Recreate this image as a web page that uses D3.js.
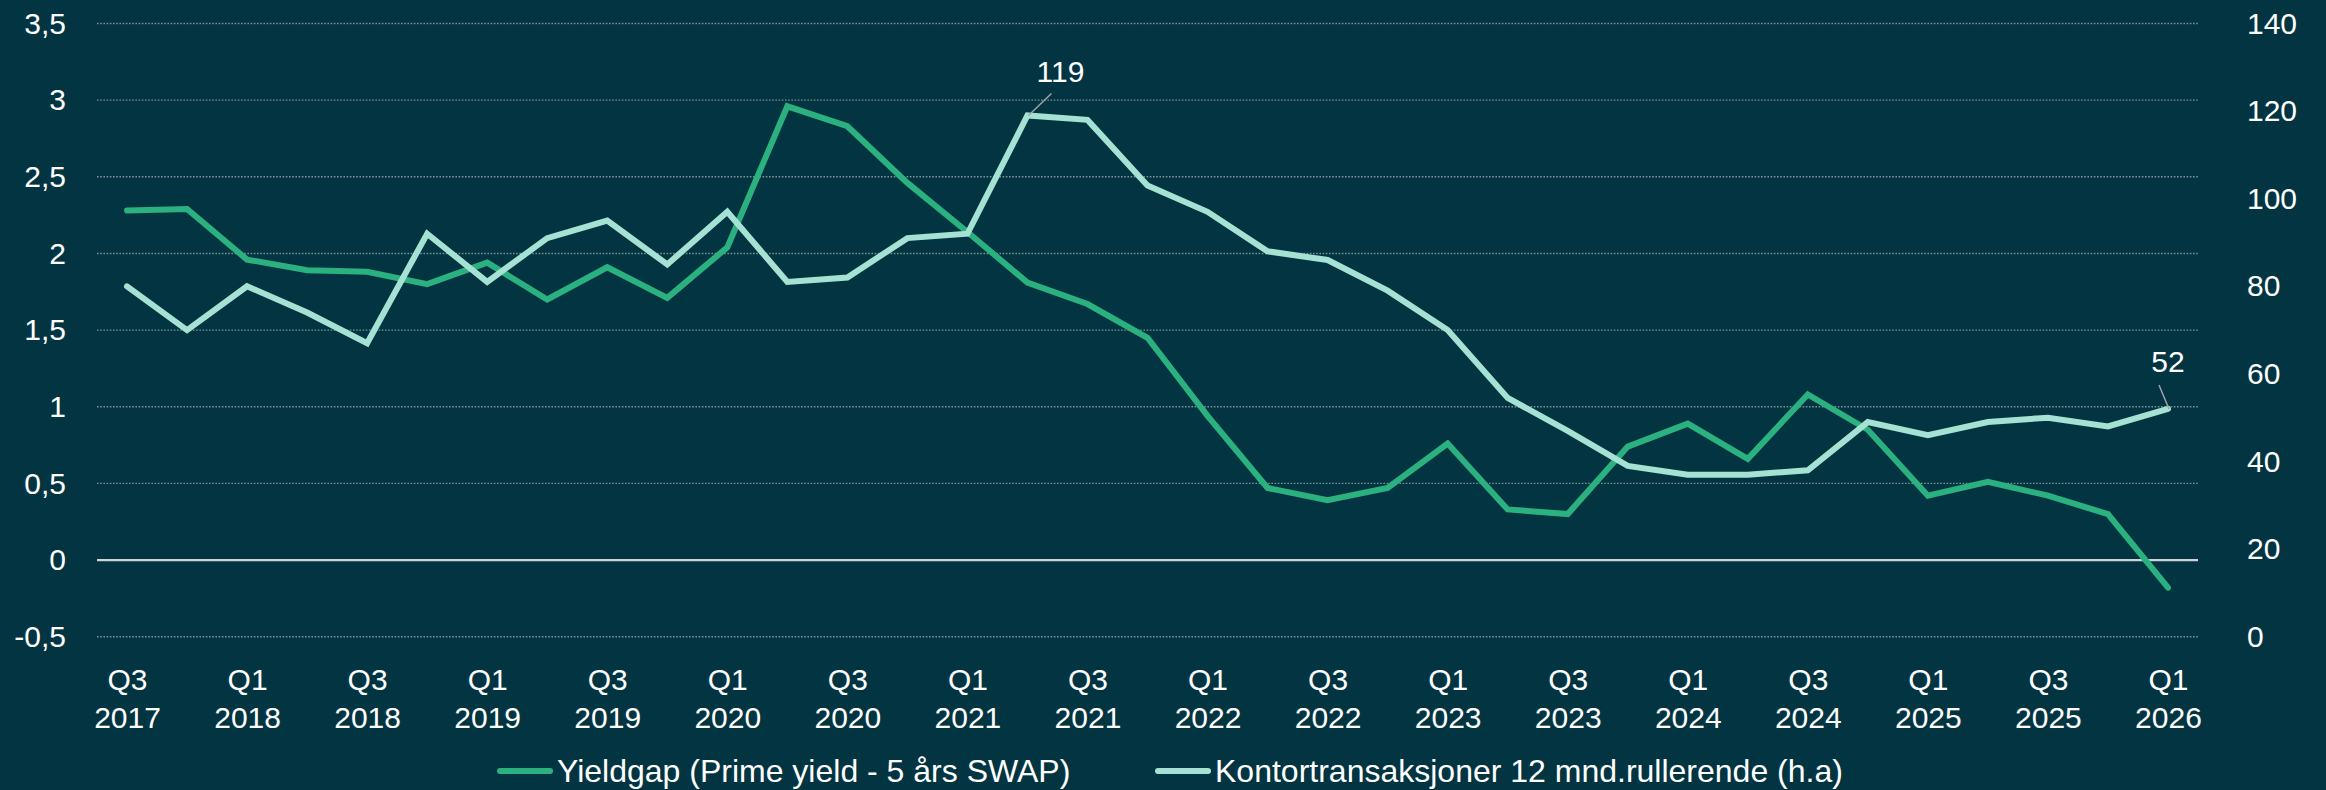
<!doctype html>
<html lang="no">
<head>
<meta charset="UTF-8">
<title>Yieldgap og kontortransaksjoner</title>
<style type="text/css">
body {
  margin: 0;
  padding: 0;
  background: #023541;
  font-family: 'Liberation Sans', Arial, sans-serif;
}
svg text {
  fill: #ffffff;
}
</style>
<script type="text/javascript" src="https://cdn.jsdelivr.net/npm/d3@7/dist/d3.min.js"></script>
</head>
<body>
<div id="chart"></div>
<script type="text/javascript">

var quarters = ['Q3 2017', 'Q4 2017',
  'Q1 2018', 'Q2 2018', 'Q3 2018', 'Q4 2018',
  'Q1 2019', 'Q2 2019', 'Q3 2019', 'Q4 2019',
  'Q1 2020', 'Q2 2020', 'Q3 2020', 'Q4 2020',
  'Q1 2021', 'Q2 2021', 'Q3 2021', 'Q4 2021',
  'Q1 2022', 'Q2 2022', 'Q3 2022', 'Q4 2022',
  'Q1 2023', 'Q2 2023', 'Q3 2023', 'Q4 2023',
  'Q1 2024', 'Q2 2024', 'Q3 2024', 'Q4 2024',
  'Q1 2025', 'Q2 2025', 'Q3 2025', 'Q4 2025',
  'Q1 2026'];

// venstre akse, prosentpoeng
var yieldgap = [2.28, 2.29, 1.96, 1.89, 1.88, 1.80, 1.94, 1.70, 1.91, 1.71,
  2.04, 2.96, 2.83, 2.46, 2.14, 1.81, 1.67, 1.45, 0.94, 0.47,
  0.39, 0.47, 0.76, 0.33, 0.30, 0.74, 0.89, 0.66, 1.08, 0.85,
  0.42, 0.51, 0.42, 0.30, -0.18];

// hoyre akse (h.a)
var transaksjoner = [80, 70, 80, 74, 67, 92, 81, 91, 95, 85,
  97, 81, 82, 91, 92, 119, 118, 103, 97, 88,
  86, 79, 70, 54.5, 47, 39, 37, 37, 38, 49,
  46, 49, 50, 48, 52];

var leftTicks = [-0.5, 0, 0.5, 1, 1.5, 2, 2.5, 3, 3.5];
var rightTicks = [0, 20, 40, 60, 80, 100, 120, 140];

var seriesNames = ['Yieldgap (Prime yield - 5 års SWAP)', 'Kontortransaksjoner 12 mnd.rullerende (h.a)'];
var seriesColors = ['#2bb07f', '#a6e2d3'];

// verdier som er merket i figuren (indeks i quarters)
var labelled = [15, 34];

function fmt(v) {
  return String(v).replace('.', ',');
}

function draw() {
  var w = 2326, h = 790;
  var left = 97, right = 2198, top = 23.5, bottom = 636.7;

  var svg = d3.select('#chart').append('svg')
    .attr('width', w)
    .attr('height', h);

  svg.append('rect')
    .attr('width', w)
    .attr('height', h)
    .attr('fill', '#023541');

  var x = d3.scalePoint().domain(quarters).range([left, right]).padding(0.5);
  var yL = d3.scaleLinear().domain([-0.5, 3.5]).range([bottom, top]);
  var yR = d3.scaleLinear().domain([0, 140]).range([bottom, top]);

  // gridlines
  svg.append('g').selectAll('line.grid')
    .data(leftTicks)
    .enter().append('line')
    .attr('class', 'grid')
    .attr('x1', left)
    .attr('x2', right)
    .attr('y1', function(d) { return yL(d); })
    .attr('y2', function(d) { return yL(d); })
    .attr('stroke', function(d) { return d === 0 ? '#cfd4d6' : '#7d9196'; })
    .attr('stroke-width', function(d) { return d === 0 ? 2.2 : 1.4; })
    .attr('stroke-dasharray', function(d) { return d === 0 ? null : '1.6,1.6'; });

  // left axis
  var axL = svg.append('g')
    .attr('transform', 'translate(' + (left - 31) + ',0)')
    .call(d3.axisLeft(yL).tickValues(leftTicks).tickFormat(fmt).tickSize(0).tickPadding(0));
  axL.select('.domain').remove();
  axL.selectAll('text')
    .attr('fill', '#fff')
    .style('font-size', '30px')
    .style('font-family', "'Liberation Sans', Arial, sans-serif");

  // right axis
  var axR = svg.append('g')
    .attr('transform', 'translate(' + (right + 49) + ',0)')
    .call(d3.axisRight(yR).tickValues(rightTicks).tickSize(0).tickPadding(0));
  axR.select('.domain').remove();
  axR.selectAll('text')
    .attr('fill', '#fff')
    .style('font-size', '30px')
    .style('font-family', "'Liberation Sans', Arial, sans-serif");

  // bottom axis, two-line labels
  var xTicks = quarters.filter(function(q, i) { return i % 2 === 0; });
  var axB = svg.append('g')
    .attr('transform', 'translate(0,' + bottom + ')')
    .call(d3.axisBottom(x).tickValues(xTicks).tickSize(0).tickFormat(''));
  axB.select('.domain').remove();
  axB.selectAll('.tick text').each(function(d) {
    var parts = d.split(' ');
    var t = d3.select(this)
      .attr('fill', '#fff')
      .attr('y', 0)
      .attr('dy', null)
      .style('font-size', '30px')
      .style('font-family', "'Liberation Sans', Arial, sans-serif");
    t.append('tspan').attr('x', 0).attr('y', 53).text(parts[0]);
    t.append('tspan').attr('x', 0).attr('y', 91).text(parts[1]);
  });

  // lines
  var lineL = d3.line()
    .x(function(d, i) { return x(quarters[i]); })
    .y(function(d) { return yL(d); });
  var lineR = d3.line()
    .x(function(d, i) { return x(quarters[i]); })
    .y(function(d) { return yR(d); });

  svg.append('path')
    .datum(yieldgap)
    .attr('d', lineL)
    .attr('fill', 'none')
    .attr('stroke', seriesColors[0])
    .attr('stroke-width', 6)
    .attr('stroke-linecap', 'round')
    .attr('stroke-linejoin', 'miter');

  svg.append('path')
    .datum(transaksjoner)
    .attr('d', lineR)
    .attr('fill', 'none')
    .attr('stroke', seriesColors[1])
    .attr('stroke-width', 6)
    .attr('stroke-linecap', 'round')
    .attr('stroke-linejoin', 'miter');

  // data labels with leader lines: [line dx, line dy, text dx, text baseline dy]
  var offsets = [[24, -22, 33, -33], [-9, -24, 0, -37]];
  labelled.forEach(function(idx, k) {
    var px = x(quarters[idx]);
    var py = yR(transaksjoner[idx]);
    var o = offsets[k];
    svg.append('line')
      .attr('x1', px + 1).attr('y1', py)
      .attr('x2', px + o[0]).attr('y2', py + o[1])
      .attr('stroke', '#a3a3a3')
      .attr('stroke-width', 1.5);
    svg.append('text')
      .attr('x', px + o[2])
      .attr('y', py + o[3])
      .attr('text-anchor', 'middle')
      .style('font-size', '30px')
      .text(Math.round(transaksjoner[idx]));
  });

  // legend
  var legendX = [497, 1155];
  var legendY = 771;
  var legend = svg.append('g').selectAll('g.legend')
    .data(seriesNames)
    .enter().append('g')
    .attr('class', 'legend')
    .attr('transform', function(d, i) { return 'translate(' + legendX[i] + ',' + legendY + ')'; });
  legend.append('line')
    .attr('x1', 3).attr('x2', 53)
    .attr('stroke', function(d, i) { return seriesColors[i]; })
    .attr('stroke-width', 6)
    .attr('stroke-linecap', 'round');
  legend.append('text')
    .attr('x', 60)
    .attr('y', 11)
    .style('font-size', '32px')
    .text(function(d) { return d; });
}

draw();

</script>
</body>
</html>
